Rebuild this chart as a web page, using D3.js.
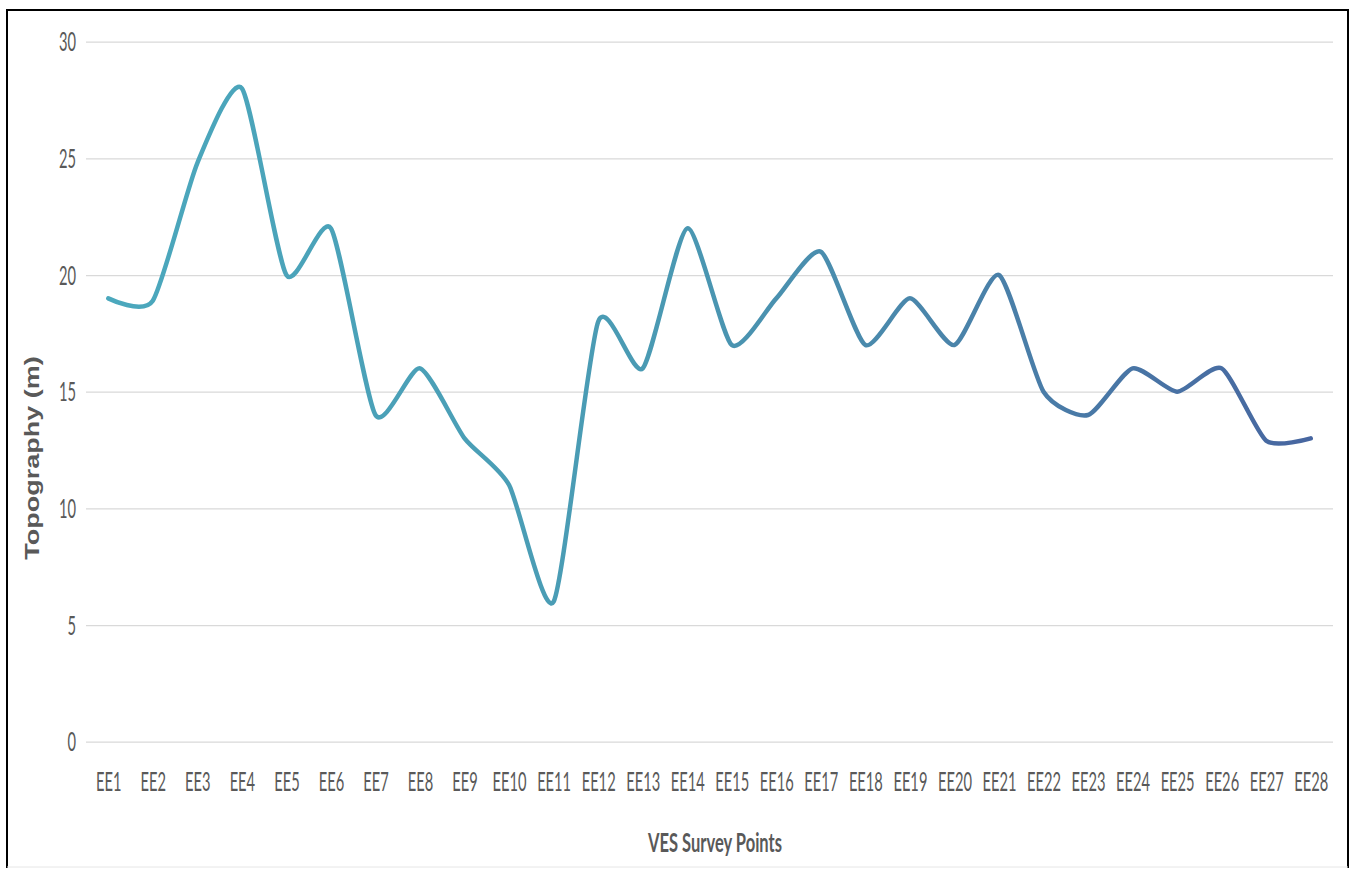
<!DOCTYPE html>
<html>
<head>
<meta charset="utf-8">
<script src="https://cdn.jsdelivr.net/npm/d3@7"></script>
<style>
  html, body { margin: 0; padding: 0; background: #ffffff; }
  svg { display: block; }
</style>
</head>
<body>
<svg id="chart" width="1352" height="870"></svg>
<script>
// Survey points along the profile
const categories = ["EE1","EE2","EE3","EE4","EE5","EE6","EE7","EE8","EE9","EE10",
  "EE11","EE12","EE13","EE14","EE15","EE16","EE17","EE18","EE19","EE20",
  "EE21","EE22","EE23","EE24","EE25","EE26","EE27","EE28"];

// Ground elevation at each survey point (m)
const topography = [19, 18.9, 24.8, 28, 20, 22, 14, 16, 13, 11,
  6, 18, 16, 22, 17, 19, 21, 17, 19, 17,
  20, 15, 14, 16, 15, 16, 12.9, 13];

const yTicks = [0, 5, 10, 15, 20, 25, 30];
const xTitle = "VES Survey Points";
const yTitle = "Topography (m)";

const plot = { left: 86, right: 1333, top: 41.7, bottom: 741.7 };
const textGrey = "#595959";

const svg = d3.select("#chart");

// Frame around the figure
svg.append("path")
  .attr("d", `M7,868 L7,10 L1348,10 L1348,868`)
  .attr("fill", "none").attr("stroke", "#000").attr("stroke-width", 2);
svg.append("line")
  .attr("x1", 7).attr("x2", 1348).attr("y1", 867).attr("y2", 867)
  .attr("stroke", "#e6e6e6").attr("stroke-width", 1);

const x = d3.scalePoint().domain(categories).range([plot.left, plot.right]).padding(0.5);
const y = d3.scaleLinear().domain([0, 30]).range([plot.bottom, plot.top]);

// Horizontal gridlines
const grid = svg.append("g").attr("transform", `translate(${plot.left},0)`)
  .call(d3.axisLeft(y).tickValues(yTicks).tickSize(-(plot.right - plot.left)).tickFormat(""));
grid.select(".domain").remove();
grid.selectAll(".tick line").attr("stroke", "#d9d9d9").attr("stroke-width", 1.2);

// Measure the tick font to set its horizontal compression
const tickFont = "26px Lato, 'Open Sans', sans-serif";
const probe = svg.append("text").style("font", tickFont).text("EE28");
const sxTick = 34 / probe.node().getComputedTextLength();
probe.remove();

// Y axis labels
const yAxis = svg.append("g").attr("transform", `translate(${plot.left},0)`)
  .call(d3.axisLeft(y).tickValues(yTicks).tickSize(0).tickPadding(0));
yAxis.select(".domain").remove();
yAxis.selectAll(".tick text")
  .attr("x", null).attr("dy", null).attr("y", null)
  .attr("transform", `translate(-10,9) scale(${sxTick},1)`)
  .attr("text-anchor", "end")
  .style("font", tickFont).attr("fill", textGrey);

// X axis labels
const xAxis = svg.append("g").attr("transform", `translate(0,${plot.bottom})`)
  .call(d3.axisBottom(x).tickSize(0).tickPadding(0));
xAxis.select(".domain").remove();
xAxis.selectAll(".tick text")
  .attr("y", null).attr("dy", null)
  .attr("transform", `translate(0,49) scale(${sxTick},1)`)
  .attr("text-anchor", "middle")
  .style("font", tickFont).attr("fill", textGrey);

// Axis titles
const xTitleFont = "bold 27px Lato, 'Open Sans', sans-serif";
const xt = svg.append("text").style("font", xTitleFont).text(xTitle);
const sxTitle = 134 / xt.node().getComputedTextLength();
xt.attr("text-anchor", "middle").attr("fill", textGrey)
  .attr("transform", `translate(715,852) scale(${sxTitle},1)`);

svg.append("text")
  .style("font", "bold 27px 'Liberation Sans', Arial, sans-serif")
  .attr("fill", textGrey)
  .attr("text-anchor", "middle")
  .attr("transform", `translate(39,458) scale(0.72,1) rotate(-90)`)
  .text(yTitle);

// Colour ramp along the line
const grad = svg.append("defs").append("linearGradient")
  .attr("id", "lineRamp").attr("gradientUnits", "userSpaceOnUse")
  .attr("x1", x(categories[0])).attr("x2", x(categories[categories.length - 1]))
  .attr("y1", 0).attr("y2", 0);
[[0, "#4ba8bd"], [0.45, "#4a9ab3"], [0.7, "#4a84aa"], [1, "#4766a0"]].forEach(([o, c]) =>
  grad.append("stop").attr("offset", o).attr("stop-color", c));

const line = d3.line()
  .x((d, i) => x(categories[i]))
  .y(d => y(d))
  .curve(d3.curveCardinal.tension(0.35));

svg.append("path")
  .datum(topography)
  .attr("d", line)
  .attr("fill", "none")
  .attr("stroke", "url(#lineRamp)")
  .attr("stroke-width", 4.5)
  .attr("stroke-linejoin", "round")
  .attr("stroke-linecap", "round");
</script>
</body>
</html>
